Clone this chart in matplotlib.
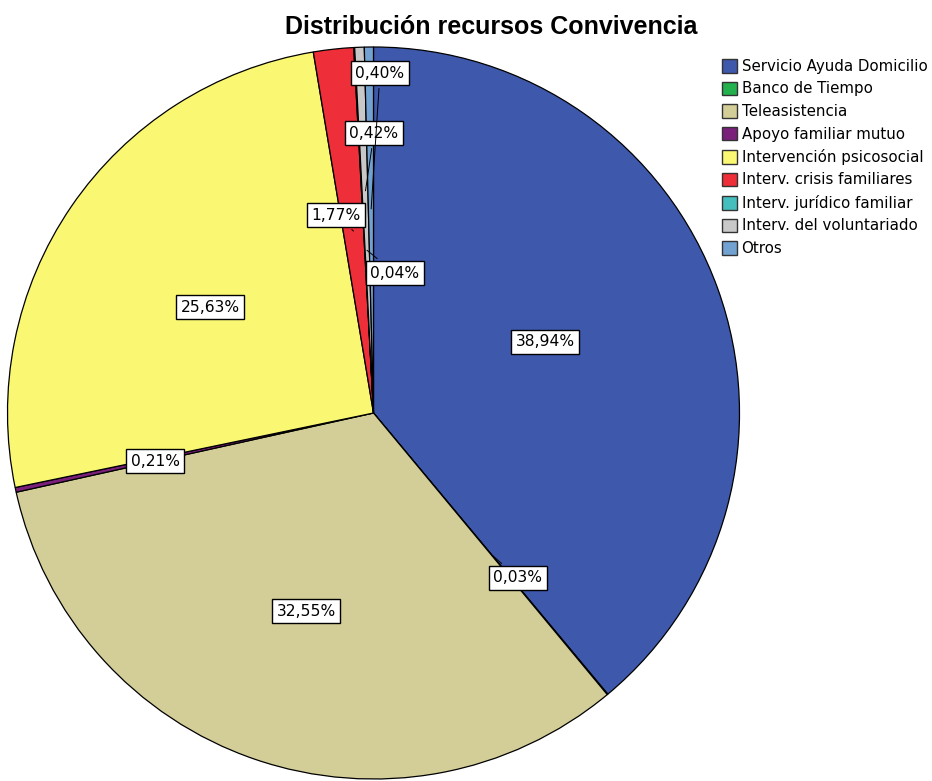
import matplotlib
matplotlib.use('Agg')
import matplotlib.pyplot as plt
from matplotlib.patches import Patch
import numpy as np

categorias = ['Servicio Ayuda Domicilio', 'Banco de Tiempo', 'Teleasistencia',
              'Apoyo familiar mutuo', 'Intervención psicosocial',
              'Interv. crisis familiares', 'Interv. jurídico familiar',
              'Interv. del voluntariado', 'Otros']
porcentajes = [38.94, 0.03, 32.55, 0.21, 25.63, 1.77, 0.04, 0.42, 0.40]
colores = ['#3E58AC', '#22B14C', '#D3CE97', '#7A1F7A', '#FAF872',
           '#EE2E38', '#45BEBE', '#C8C8C8', '#72A2D2']

W, H = 932, 781

def img(x, y):
    # coordenadas de la imagen (y hacia abajo) -> coordenadas del eje
    return (x, H - y)

# posiciones de las etiquetas (pixeles de la imagen)
pos_etiquetas = [(545, 342), (518, 578), (306, 611), (155, 461), (210, 307),
                 (336, 215), (395, 273), (374, 133), (380, 73)]
# radio relativo del punto de la linea guia (None = sin linea)
radio_guia = [None, 0.5, None, None, None, 0.5, 0.45, 0.6, 0.55]

centro = img(373.5, 413)
radio = 366

fig = plt.figure(figsize=(W / 100, H / 100), dpi=100)
ax = fig.add_axes([0, 0, 1, 1])

cunas, _ = ax.pie(porcentajes, colors=colores, startangle=90, counterclock=False,
                  center=centro, radius=radio,
                  wedgeprops={'edgecolor': 'black', 'linewidth': 0.9})
ax.set_xlim(0, W)
ax.set_ylim(0, H)
ax.set_aspect('equal')
ax.axis('off')

for i, (cuna, p) in enumerate(zip(cunas, porcentajes)):
    texto = f'{p:.2f}%'.replace('.', ',')
    xy_txt = img(*pos_etiquetas[i])
    caja = dict(boxstyle='square,pad=0.3', fc='white', ec='black', lw=1.0)
    if radio_guia[i] is None:
        ax.text(xy_txt[0], xy_txt[1], texto, ha='center', va='center',
                fontsize=11.2, family='DejaVu Sans', bbox=caja, zorder=5)
    else:
        ang = np.deg2rad((cuna.theta1 + cuna.theta2) / 2)
        r = radio_guia[i] * radio
        punto = (centro[0] + r * np.cos(ang), centro[1] + r * np.sin(ang))
        ax.annotate(texto, xy=punto, xytext=xy_txt, ha='center', va='center',
                    fontsize=11.2, family='DejaVu Sans', bbox=caja, zorder=5,
                    arrowprops=dict(arrowstyle='-', color='black', lw=0.7))

fig.text(491 / W, 1 - 27 / H, 'Distribución recursos Convivencia',
         ha='center', va='center', fontsize=18, fontweight='bold',
         family='Liberation Sans')

manijas = [Patch(facecolor=c, edgecolor='#333333', linewidth=1.0) for c in colores]
fig.legend(manijas, categorias, loc='upper left',
           bbox_to_anchor=(722 / W, 1 - 59 / H), frameon=False,
           prop={'family': 'DejaVu Sans', 'size': 10.8},
           handlelength=1.0, handleheight=1.0, handletextpad=0.3,
           labelspacing=0.5, borderpad=0, borderaxespad=0)

fig.savefig('out.png', dpi=100)
